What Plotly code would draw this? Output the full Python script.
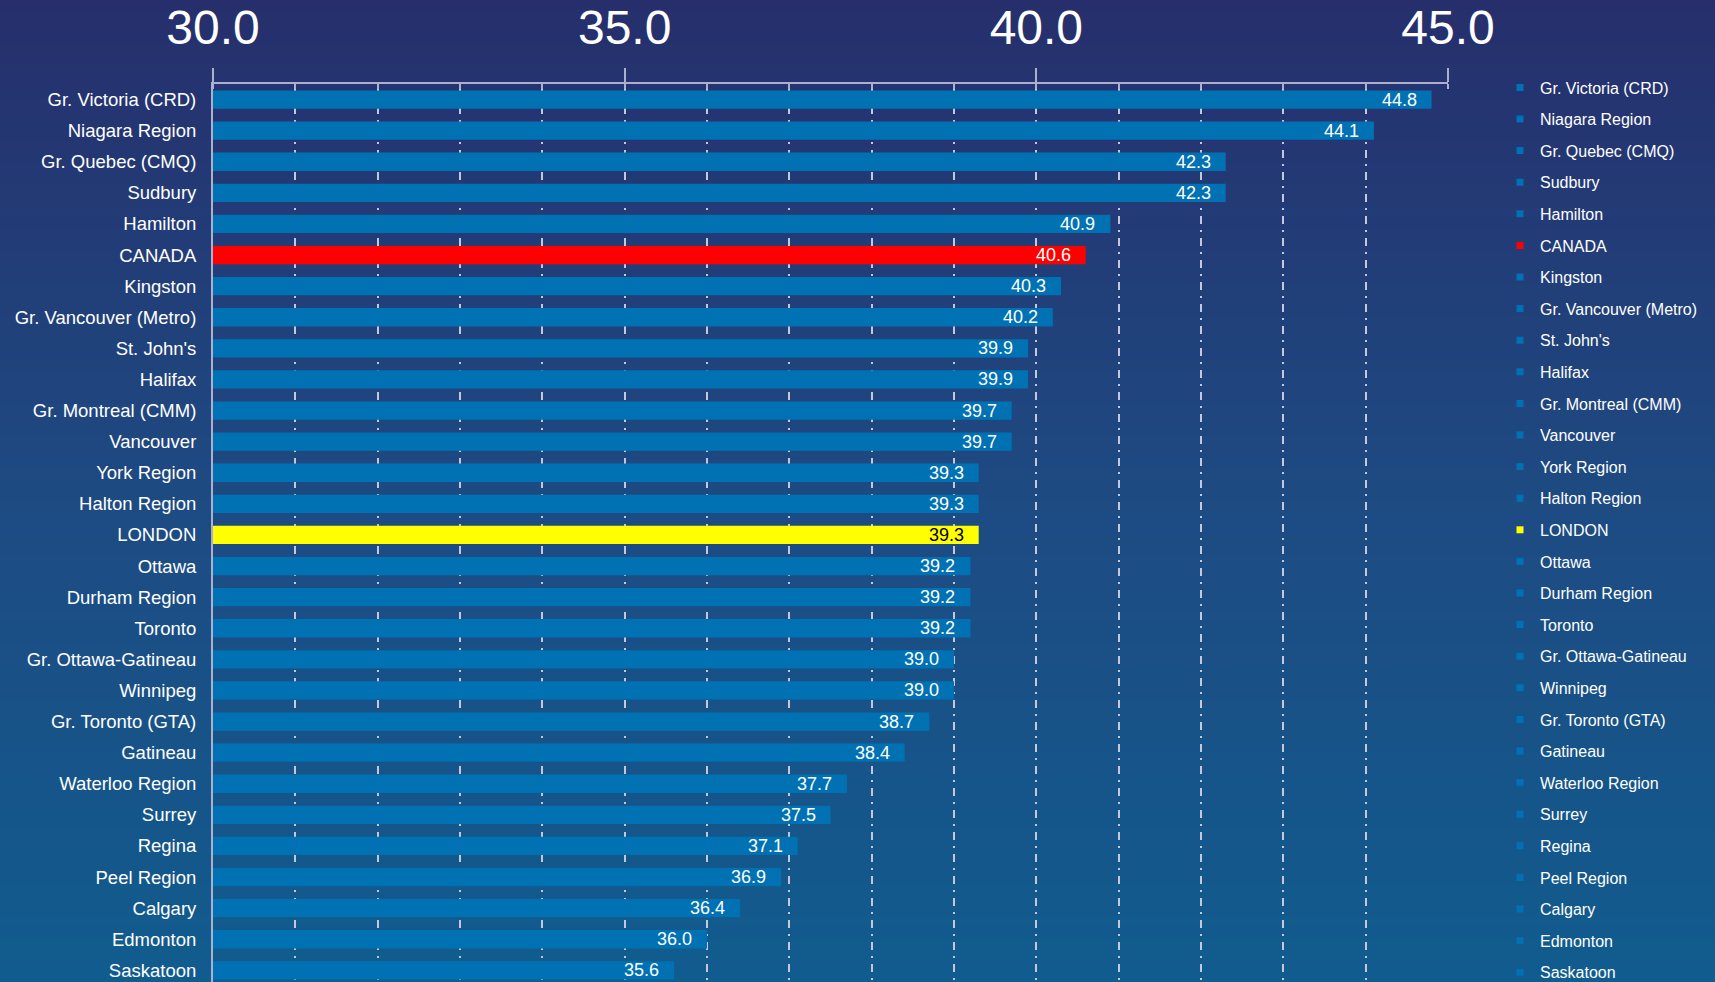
import plotly.graph_objects as go

categories = ["Gr. Victoria (CRD)", "Niagara Region", "Gr. Quebec (CMQ)", "Sudbury", "Hamilton",
              "CANADA", "Kingston", "Gr. Vancouver (Metro)", "St. John's", "Halifax",
              "Gr. Montreal (CMM)", "Vancouver", "York Region", "Halton Region", "LONDON",
              "Ottawa", "Durham Region", "Toronto", "Gr. Ottawa-Gatineau", "Winnipeg",
              "Gr. Toronto (GTA)", "Gatineau", "Waterloo Region", "Surrey", "Regina",
              "Peel Region", "Calgary", "Edmonton", "Saskatoon"]
values = [44.8, 44.1, 42.3, 42.3, 40.9, 40.6, 40.3, 40.2, 39.9, 39.9,
          39.7, 39.7, 39.3, 39.3, 39.3, 39.2, 39.2, 39.2, 39.0, 39.0,
          38.7, 38.4, 37.7, 37.5, 37.1, 36.9, 36.4, 36.0, 35.6]
tick_values = [30, 35, 40, 45]

BAR = "#0072b4"
HIGHLIGHT = {"CANADA": "#ff0000", "LONDON": "#ffff00"}
FONT = "Liberation Sans, Arial, sans-serif"

W, H = 1715, 982
L, R, T, B = 213, 267, 84, 0
PH = H - T - B
PW = W - L - R

fig = go.Figure()

for cat, val in zip(categories, values):
    col = HIGHLIGHT.get(cat, BAR)
    fig.add_trace(go.Bar(x=[val], y=[cat], orientation="h", marker=dict(color=col, line=dict(width=0)),
                         base=0, showlegend=False, legendgroup=cat, hoverinfo="x+y"))
    fig.add_trace(go.Scatter(x=[None], y=[None], mode="markers", name=cat, legendgroup=cat,
                             marker=dict(symbol="square", size=7, color=col), showlegend=True))
    fig.add_annotation(x=val, y=cat, text=f"{val:.1f}", showarrow=False, xanchor="right",
                       xshift=-13, yshift=0,
                       font=dict(family=FONT, size=18, color="#000000" if cat == "LONDON" else "#ffffff"))

# background gradient (style only)
stops = [(0.0, (38, 47, 108)), (0.5, (30, 74, 130)), (1.0, (17, 92, 142))]
def grad(t):
    for (t0, c0), (t1, c1) in zip(stops[:-1], stops[1:]):
        if t <= t1:
            f = (t - t0) / (t1 - t0)
            return "rgb(%d,%d,%d)" % tuple(round(a + (b - a) * f) for a, b in zip(c0, c1))
    return "rgb(%d,%d,%d)" % stops[-1][1]

N = 90
shapes = []
for i in range(N):
    py0 = H * i / N - 1
    py1 = H * (i + 1) / N + 1
    shapes.append(dict(type="rect", xref="paper", yref="paper", layer="below",
                       x0=-L / PW - 0.01, x1=(W - L) / PW + 0.01,
                       y0=(H - B - py1) / PH, y1=(H - B - py0) / PH,
                       fillcolor=grad((i + 0.5) / N), line=dict(width=0)))

band = 31.1
span = PH / band
fig.update_layout(
    width=W, height=H,
    margin=dict(l=L, r=R, t=T, b=B, pad=0, autoexpand=False),
    paper_bgcolor="rgb(38,47,108)", plot_bgcolor="rgba(0,0,0,0)",
    barmode="overlay", bargap=0.41,
    shapes=shapes,
    showlegend=True,
    legend=dict(xref="container", yref="container", x=1500 / W, xanchor="left",
                y=1 - 70.5 / H, yanchor="top",
                font=dict(family=FONT, size=16, color="#ffffff"), tracegroupgap=7.8,
                bgcolor="rgba(0,0,0,0)", borderwidth=0, itemwidth=30, maxheight=1000),
    font=dict(family=FONT, color="#ffffff"),
    xaxis=dict(side="top", range=[30, 45], tickvals=tick_values, tickformat=".1f",
               tickfont=dict(family=FONT, size=48, color="#ffffff"),
               ticks="outside", ticklen=14, tickwidth=2, tickcolor="rgb(170,176,205)",
               ticklabelstandoff=5,
               showline=True, linecolor="rgb(170,176,205)", linewidth=2,
               showgrid=True, gridcolor="rgb(195,200,220)", gridwidth=2, griddash="8px,6px,2px,6px",
               minor=dict(dtick=1, tick0=30, ticks="inside", ticklen=5, tickwidth=2,
                          tickcolor="rgb(170,176,205)", showgrid=True,
                          gridcolor="rgb(195,200,220)", gridwidth=2, griddash="8px,6px,2px,6px"),
               zeroline=False, fixedrange=True),
    yaxis=dict(type="category", categoryorder="array", categoryarray=categories,
               range=[-0.5 + span, -0.5],
               tickfont=dict(family=FONT, size=18.5, color="#ffffff"),
               ticks="", ticklabelstandoff=11,
               showline=True, linecolor="rgb(170,176,205)", linewidth=2,
               showgrid=False, zeroline=False, fixedrange=True),
)

fig.write_html("out.html", config={"displayModeBar": False},
               post_script="document.body.style.margin='0';document.body.style.overflow='hidden';")
